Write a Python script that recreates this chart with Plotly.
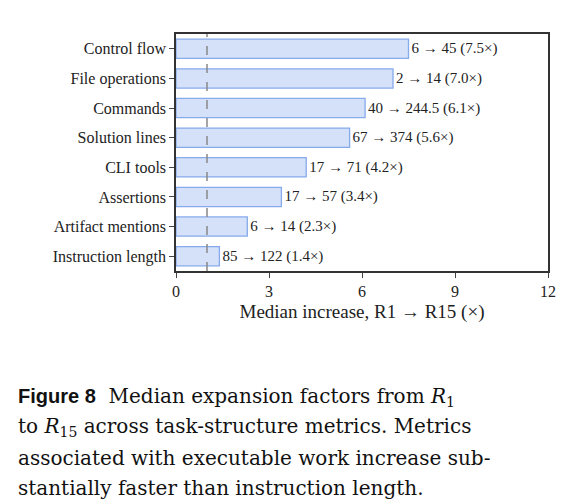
import plotly.graph_objects as go

metrics = ["Control flow", "File operations", "Commands", "Solution lines",
           "CLI tools", "Assertions", "Artifact mentions", "Instruction length"]
r1_values = ["6", "2", "40", "67", "17", "17", "6", "85"]
r15_values = ["45", "14", "244.5", "374", "71", "57", "14", "122"]
factors = [7.5, 7.0, 6.1, 5.6, 4.2, 3.4, 2.3, 1.4]
x_ticks = [0, 3, 6, 9, 12]

labels = [f"{a} → {b} ({f:.1f}×)" for a, b, f in zip(r1_values, r15_values, factors)]

fig = go.Figure(go.Bar(
    x=factors, y=metrics, orientation="h", width=0.65,
    marker=dict(color="#d4e1f9", line=dict(color="#86aaeb", width=1.3)),
    text=labels, textposition="outside", cliponaxis=False,
    textfont=dict(family="Liberation Serif", size=15, color="#222"),
))

fig.add_shape(type="line", x0=1, x1=1, y0=0, y1=1, yref="paper",
              line=dict(color="#888", width=1.5, dash="dash"))

caption = [
    "<span style='font-family:Liberation Sans'><b>Figure 8</b></span>  Median expansion factors from <i>R</i><sub>1</sub>",
    "to <i>R</i><sub>15</sub> across task-structure metrics. Metrics",
    "associated with executable work increase sub-",
    "stantially faster than instruction length.",
]
for i, line in enumerate(caption):
    fig.add_annotation(text=line, xref="paper", yref="paper",
                       x=-0.43, y=-0.53 - 0.1285 * i, xanchor="left", yanchor="middle",
                       showarrow=False, font=dict(family="DejaVu Serif", size=20, color="#111"))

fig.update_layout(
    width=574, height=503, margin=dict(l=168, r=34, t=26, b=240),
    paper_bgcolor="white", plot_bgcolor="white", showlegend=False,
    font=dict(family="Liberation Serif", size=16, color="#222"),
    xaxis=dict(range=[0, 12], tickvals=x_ticks, showgrid=False, zeroline=False,
               ticks="outside", ticklen=5, mirror=True, showline=True,
               linecolor="#333", linewidth=1.5,
               title=dict(text="Median increase, R1 → R15 (×)", standoff=6)),
    yaxis=dict(autorange="reversed", showgrid=False, ticks="outside", ticklen=5,
               mirror=True, showline=True, linecolor="#333", linewidth=1.5),
)

fig.write_html("out.html")
